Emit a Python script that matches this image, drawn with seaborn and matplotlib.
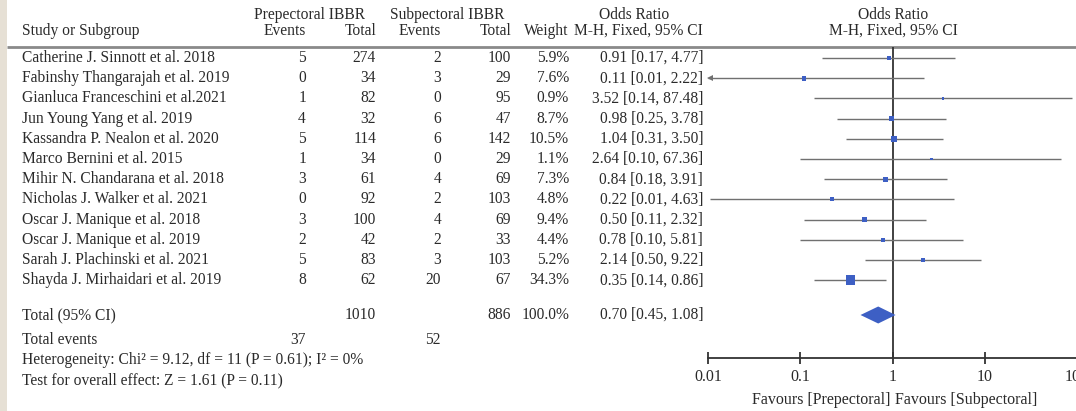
import numpy as np
import pandas as pd
import matplotlib
matplotlib.use("Agg")
import matplotlib.pyplot as plt
import seaborn as sns
from matplotlib.patches import Polygon, Rectangle
from matplotlib.ticker import NullLocator, FixedLocator, FixedFormatter

# ---------------- data ----------------
studies = [
    "Catherine J. Sinnott et al. 2018",
    "Fabinshy Thangarajah et al. 2019",
    "Gianluca Franceschini et al.2021",
    "Jun Young Yang et al. 2019",
    "Kassandra P. Nealon et al. 2020",
    "Marco Bernini et al. 2015",
    "Mihir N. Chandarana et al. 2018",
    "Nicholas J. Walker et al. 2021",
    "Oscar J. Manique et al. 2018",
    "Oscar J. Manique et al. 2019",
    "Sarah J. Plachinski et al. 2021",
    "Shayda J. Mirhaidari et al. 2019",
]
pre_events = [5, 0, 1, 4, 5, 1, 3, 0, 3, 2, 5, 8]
pre_total = [274, 34, 82, 32, 114, 34, 61, 92, 100, 42, 83, 62]
sub_events = [2, 3, 0, 6, 6, 0, 4, 2, 4, 2, 3, 20]
sub_total = [100, 29, 95, 47, 142, 29, 69, 103, 69, 33, 103, 67]
weights = [5.9, 7.6, 0.9, 8.7, 10.5, 1.1, 7.3, 4.8, 9.4, 4.4, 5.2, 34.3]
odds_ratio = [0.91, 0.11, 3.52, 0.98, 1.04, 2.64, 0.84, 0.22, 0.50, 0.78, 2.14, 0.35]
ci_low = [0.17, 0.0054, 0.14, 0.25, 0.31, 0.10, 0.18, 0.0104, 0.11, 0.10, 0.50, 0.14]
ci_high = [4.77, 2.22, 87.48, 3.78, 3.50, 67.36, 3.91, 4.63, 2.32, 5.81, 9.22, 0.86]

total_pre = 1010
total_sub = 886
total_weight = 100.0
total_or = 0.70
total_low = 0.45
total_high = 1.08
events_pre = 37
events_sub = 52
heterogeneity_text = "Heterogeneity: Chi\u00b2 = 9.12, df = 11 (P = 0.61); I\u00b2 = 0%"
overall_text = "Test for overall effect: Z = 1.61 (P = 0.11)"
x_ticks = [0.01, 0.1, 1, 10, 100]
x_tick_labels = ["0.01", "0.1", "1", "10", "100"]
favours_left = "Favours [Prepectoral]"
favours_right = "Favours [Subpectoral]"

# ---------------- style ----------------
sns.set_theme(style="white")
plt.rcParams["font.family"] = ["Liberation Serif", "DejaVu Serif"]
TXT = "#2a2a2a"
BLUE = "#3d5fc4"
LINE = "#707070"
FS = 11.2

W, H = 1076, 411
fig = plt.figure(figsize=(W / 100, H / 100), dpi=100)
fig.patch.set_facecolor("white")

bg = fig.add_axes([0, 0, 1, 1])
bg.set_xlim(0, W)
bg.set_ylim(H, 0)
bg.axis("off")

# beige left strip
bg.add_patch(Rectangle((0, 0), 7, H, color="#e6e0d5", lw=0))

def t(x, y, s, ha="left", **kw):
    bg.text(x, y, s, ha=ha, va="center", fontsize=kw.pop("fs", FS), color=TXT, **kw)

# header
y_h1, y_h2 = 15, 31
t(309, y_h1, "Prepectoral IBBR", ha="center")
t(447, y_h1, "Subpectoral IBBR", ha="center")
t(634, y_h1, "Odds Ratio", ha="center")
t(893, y_h1, "Odds Ratio", ha="center")
t(22, y_h2, "Study or Subgroup")
t(306, y_h2, "Events", ha="right")
t(376, y_h2, "Total", ha="right")
t(441, y_h2, "Events", ha="right")
t(511, y_h2, "Total", ha="right")
t(568, y_h2, "Weight", ha="right")
t(703, y_h2, "M-H, Fixed, 95% CI", ha="right")
t(893, y_h2, "M-H, Fixed, 95% CI", ha="center")
bg.plot([7, W], [47, 47], color="#8a8a8a", lw=2, solid_capstyle="butt")

row_y = [58 + 20.2 * i for i in range(len(studies))]
y_total = 315

for i, name in enumerate(studies):
    y = row_y[i]
    t(22, y, name)
    t(306, y, str(pre_events[i]), ha="right")
    t(376, y, str(pre_total[i]), ha="right")
    t(441, y, str(sub_events[i]), ha="right")
    t(511, y, str(sub_total[i]), ha="right")
    t(569, y, f"{weights[i]:.1f}%", ha="right")
    t(703, y, f"{odds_ratio[i]:.2f} [{ci_low[i]:.2f}, {ci_high[i]:.2f}]", ha="right")

t(22, y_total, "Total (95% CI)")
t(376, y_total, str(total_pre), ha="right")
t(511, y_total, str(total_sub), ha="right")
t(569, y_total, f"{total_weight:.1f}%", ha="right")
t(703, y_total, f"{total_or:.2f} [{total_low:.2f}, {total_high:.2f}]", ha="right")
t(22, 340, "Total events")
t(306, 340, str(events_pre), ha="right")
t(441, 340, str(events_sub), ha="right")
t(22, 360, heterogeneity_text)
t(22, 380, overall_text)

# ---------------- forest axes ----------------
ax_left, ax_right = 708, 1077
ax_top, ax_bot = 47, 358
ax = fig.add_axes([ax_left / W, 1 - ax_bot / H, (ax_right - ax_left) / W, (ax_bot - ax_top) / H])
ax.set_facecolor("none")
ax.set_xscale("log")
xmin, xmax = x_ticks[0], x_ticks[-1]
ax.set_xlim(xmin, xmax)
ax.set_ylim(ax_bot, ax_top)

df = pd.DataFrame({"study": studies, "or": odds_ratio, "lo": ci_low,
                   "hi": ci_high, "w": weights, "y": row_y})

# CI lines
for _, r in df.iterrows():
    lo = max(r["lo"], xmin)
    hi = min(r["hi"], xmax)
    ax.plot([lo, hi], [r["y"], r["y"]], color=LINE, lw=1, solid_capstyle="butt", zorder=2)
    if r["lo"] < xmin:
        ax.plot([xmin * 1.06], [r["y"]], marker="<", ms=4.5, color=LINE, mew=0, zorder=2, clip_on=False)

sns.scatterplot(data=df, x="or", y="y", size="w",
                sizes=(3.5, 46),
                marker="s", color=BLUE, edgecolor="none", legend=False, ax=ax, zorder=3)

# diamond
dh = 8.5
ax.add_patch(Polygon([(total_low, y_total), (total_or, y_total - dh),
                      (total_high, y_total), (total_or, y_total + dh)],
                     closed=True, color=BLUE, lw=0, zorder=3))

ax.axvline(1, color="#333333", lw=1.3, zorder=1)

for s in ["top", "right", "left"]:
    ax.spines[s].set_visible(False)
ax.spines["bottom"].set_color("#333333")
ax.spines["bottom"].set_linewidth(1.3)
ax.set_yticks([])
ax.xaxis.set_major_locator(FixedLocator(x_ticks))
ax.xaxis.set_major_formatter(FixedFormatter(x_tick_labels))
ax.xaxis.set_minor_locator(NullLocator())
ax.tick_params(axis="x", direction="inout", length=8, width=1.3, color="#333333",
               labelsize=11.5, labelcolor=TXT, pad=4, bottom=True)
ax.set_xlabel("")
ax.set_ylabel("")

t(890, 400, favours_left, ha="right", fs=11.5)
t(895, 400, favours_right, ha="left", fs=11.5)

fig.savefig("out.png", dpi=100)
